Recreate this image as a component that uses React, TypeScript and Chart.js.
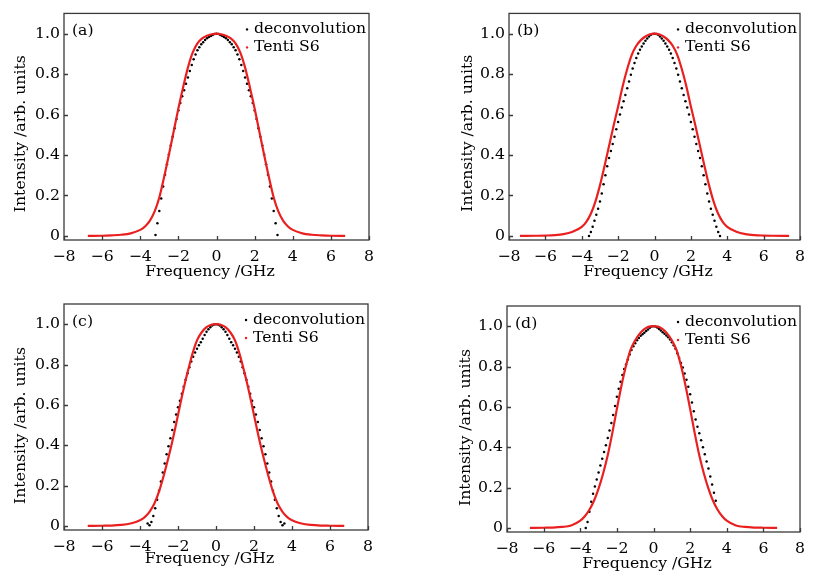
import React, { useEffect, useRef } from "react";
import { Chart, registerables } from "chart.js";

Chart.register(...registerables);

const FONT = '"DejaVu Serif", "Liberation Serif", serif';
const FONT_SIZE = 15.7;
const INK = "#000";
const FRAME = "#3a3a3a";
const RED = "#ea2020";

// Axis ticks and titles
const X_TICKS = [-8, -6, -4, -2, 0, 2, 4, 6, 8];
const Y_TICKS = [0, 0.2, 0.4, 0.6, 0.8, 1.0];
const X_TITLE = "Frequency /GHz";
const Y_TITLE = "Intensity /arb. units";

// Frequency grid of the deconvolved spectra (GHz)
const DECONV_X = [
  -3.7, -3.6, -3.5, -3.4, -3.3, -3.2, -3.1, -3.0, -2.9, -2.8, -2.7, -2.6, -2.5,
  -2.4, -2.3, -2.2, -2.1, -2.0, -1.9, -1.8, -1.7, -1.6, -1.5, -1.4, -1.3, -1.2,
  -1.1, -1.0, -0.9, -0.8, -0.7, -0.6, -0.5, -0.4, -0.3, -0.2, -0.1, 0, 0.1, 0.2,
  0.3, 0.4, 0.5, 0.6, 0.7, 0.8, 0.9, 1.0, 1.1, 1.2, 1.3, 1.4, 1.5, 1.6, 1.7, 1.8,
  1.9, 2.0, 2.1, 2.2, 2.3, 2.4, 2.5, 2.6, 2.7, 2.8, 2.9, 3.0, 3.1, 3.2, 3.3, 3.4,
  3.5, 3.6, 3.7,
];

// Deconvolved spectra (null = no sample)
const DECONV_A = [
  null, null, null, null, null, 0.005, 0.063, 0.123, 0.185, 0.245, 0.302, 0.355, 0.403,
  0.447, 0.49, 0.533, 0.578, 0.62, 0.657, 0.69, 0.72, 0.752, 0.783, 0.815, 0.845, 0.873,
  0.897, 0.918, 0.933, 0.947, 0.958, 0.968, 0.977, 0.984, 0.989, 0.993, 0.998, 1.0, 0.998, 0.993,
  0.989, 0.984, 0.977, 0.968, 0.958, 0.947, 0.933, 0.918, 0.897, 0.873, 0.845, 0.815, 0.783, 0.752, 0.72, 0.69,
  0.657, 0.62, 0.578, 0.533, 0.49, 0.447, 0.403, 0.355, 0.302, 0.245, 0.185, 0.123, 0.063, 0.005, null, null,
  null, null, null,
];
const DECONV_B = [
  null, 0.0, 0.02, 0.045, 0.075, 0.105, 0.135, 0.17, 0.21, 0.255, 0.3, 0.345, 0.385,
  0.42, 0.455, 0.49, 0.527, 0.563, 0.6, 0.635, 0.666, 0.697, 0.73, 0.763, 0.797, 0.828,
  0.855, 0.88, 0.902, 0.921, 0.936, 0.951, 0.965, 0.976, 0.986, 0.994, 0.998, 1.0, 0.998, 0.994,
  0.986, 0.976, 0.965, 0.951, 0.936, 0.921, 0.902, 0.88, 0.855, 0.828, 0.797, 0.763, 0.73, 0.697, 0.666, 0.635,
  0.6, 0.563, 0.527, 0.49, 0.455, 0.42, 0.385, 0.345, 0.3, 0.255, 0.21, 0.17, 0.135, 0.105, 0.075, 0.045,
  0.02, 0.0, null,
];
const DECONV_C = [
  null, 0.012, 0.004, 0.02, 0.05, 0.088, 0.13, 0.175, 0.22, 0.265, 0.31, 0.355, 0.395,
  0.435, 0.475, 0.515, 0.553, 0.588, 0.62, 0.655, 0.69, 0.725, 0.757, 0.787, 0.815, 0.838,
  0.86, 0.878, 0.895, 0.91, 0.928, 0.946, 0.962, 0.975, 0.985, 0.993, 0.998, 1.0, 0.998, 0.993,
  0.985, 0.975, 0.962, 0.946, 0.928, 0.91, 0.895, 0.878, 0.86, 0.838, 0.815, 0.787, 0.757, 0.725, 0.69, 0.655,
  0.62, 0.588, 0.553, 0.515, 0.475, 0.435, 0.395, 0.355, 0.31, 0.265, 0.22, 0.175, 0.13, 0.088, 0.05, 0.02,
  0.004, 0.012, null,
];
const DECONV_D = [
  0.0, 0.03, 0.08, 0.13, 0.17, 0.205, 0.24, 0.275, 0.31, 0.343, 0.376, 0.41, 0.446,
  0.483, 0.52, 0.56, 0.605, 0.65, 0.69, 0.725, 0.758, 0.788, 0.81, 0.835, 0.86, 0.882,
  0.9, 0.915, 0.93, 0.942, 0.952, 0.96, 0.968, 0.976, 0.984, 0.992, 0.998, 1.0, 0.998, 0.993,
  0.986, 0.978, 0.97, 0.962, 0.954, 0.945, 0.934, 0.92, 0.905, 0.888, 0.866, 0.842, 0.818, 0.795, 0.766, 0.734,
  0.7, 0.663, 0.622, 0.578, 0.538, 0.502, 0.47, 0.435, 0.4, 0.365, 0.33, 0.295, 0.255, 0.215, 0.175, 0.135,
  null, null, null,
];

// Tenti S6 model profiles
const TENTI_X_A = [
  -6.75, -6, -5.5, -5, -4.5, -4, -3.75, -3.5, -3.25, -3, -2.75, -2.5, -2.25, -2, -1.75, -1.5,
  -1.25, -1, -0.75, -0.5, -0.25, 0, 0.25, 0.5, 0.75, 1, 1.25, 1.5, 1.75, 2, 2.25, 2.5, 2.75, 3,
  3.25, 3.5, 3.75, 4, 4.5, 5, 5.5, 6, 6.75,
];
const TENTI_A = [
  0, 0.001, 0.003, 0.006, 0.013, 0.03, 0.047, 0.075, 0.12, 0.19, 0.29, 0.4, 0.515, 0.63, 0.735, 0.832,
  0.906, 0.952, 0.977, 0.99, 0.997, 1, 0.997, 0.99, 0.977, 0.952, 0.906, 0.832, 0.735, 0.63, 0.515, 0.4, 0.29, 0.19,
  0.12, 0.075, 0.047, 0.03, 0.013, 0.006, 0.003, 0.001, 0,
];
const TENTI_X_B = [
  -7.4, -6.5, -6, -5.5, -5, -4.5, -4, -3.75, -3.5, -3.25, -3, -2.75, -2.5, -2.25, -2, -1.75, -1.5,
  -1.25, -1, -0.75, -0.5, -0.25, 0, 0.25, 0.5, 0.75, 1, 1.25, 1.5, 1.75, 2, 2.25, 2.5, 2.75, 3,
  3.25, 3.5, 3.75, 4, 4.5, 5, 5.5, 6, 6.5, 7.4,
];
const TENTI_B = [
  0, 0.001, 0.002, 0.004, 0.009, 0.021, 0.045, 0.07, 0.11, 0.17, 0.25, 0.345, 0.445, 0.545, 0.64, 0.74, 0.825,
  0.895, 0.94, 0.968, 0.986, 0.997, 1, 0.997, 0.986, 0.968, 0.94, 0.895, 0.825, 0.74, 0.64, 0.545, 0.445, 0.345, 0.25,
  0.17, 0.11, 0.07, 0.045, 0.021, 0.009, 0.004, 0.002, 0.001, 0,
];
const TENTI_X_C = TENTI_X_A;
const TENTI_C = [
  0, 0.001, 0.002, 0.005, 0.012, 0.028, 0.044, 0.07, 0.11, 0.17, 0.25, 0.34, 0.44, 0.55, 0.66, 0.76,
  0.85, 0.92, 0.96, 0.985, 0.997, 1, 0.997, 0.985, 0.96, 0.92, 0.85, 0.76, 0.66, 0.55, 0.44, 0.34, 0.25, 0.17,
  0.11, 0.07, 0.044, 0.028, 0.012, 0.005, 0.002, 0.001, 0,
];
const TENTI_X_D = TENTI_X_A;
const TENTI_D = [
  0, 0.001, 0.002, 0.005, 0.012, 0.036, 0.058, 0.09, 0.135, 0.195, 0.27, 0.36, 0.47, 0.59, 0.705, 0.805,
  0.884, 0.93, 0.963, 0.985, 0.998, 1, 0.998, 0.985, 0.963, 0.93, 0.884, 0.805, 0.705, 0.59, 0.47, 0.36, 0.27, 0.195,
  0.135, 0.09, 0.058, 0.036, 0.012, 0.005, 0.002, 0.001, 0,
];

type PanelSpec = {
  tag: string;
  dots: (number | null)[];
  modelX: number[];
  model: number[];
  left: number;
  top: number;
  w: number;
  h: number;
  padTop: number;
  padRight: number;
  xAxisH: number;
  xTitleDy: number;
  yTitleDx: number;
  yTitleDy: number;
};

const PANELS: PanelSpec[] = [
  { tag: "(a)", dots: DECONV_A, modelX: TENTI_X_A, model: TENTI_A, left: 0, top: 0, w: 400, h: 290, padTop: 8, padRight: 31, xAxisH: 50, xTitleDy: 31.5, yTitleDx: 43, yTitleDy: 7 },
  { tag: "(b)", dots: DECONV_B, modelX: TENTI_X_B, model: TENTI_B, left: 445, top: 0, w: 368, h: 290, padTop: 9, padRight: 6, xAxisH: 50, xTitleDy: 31.5, yTitleDx: 41, yTitleDy: 6.5 },
  { tag: "(c)", dots: DECONV_C, modelX: TENTI_X_C, model: TENTI_C, left: 0, top: 290, w: 400, h: 288, padTop: 14, padRight: 32, xAxisH: 48, xTitleDy: 29, yTitleDx: 43, yTitleDy: 8.5 },
  { tag: "(d)", dots: DECONV_D, modelX: TENTI_X_D, model: TENTI_D, left: 443, top: 290, w: 370, h: 288, padTop: 16, padRight: 6, xAxisH: 46, xTitleDy: 32, yTitleDx: 41, yTitleDy: 8.5 },
];

const fmtX = (v: number) => (v < 0 ? "\u2212" + Math.abs(v) : String(v));
const fmtY = (v: number) => (v === 0 ? "0" : v.toFixed(1));

// Box frame, inward tick marks, axis titles, panel tag and the in-plot legend
const decorPlugin = {
  id: "panelDecor",
  afterDraw(chart: any, _args: any, opts: any) {
    const { ctx, chartArea: a, scales } = chart;
    ctx.save();
    ctx.strokeStyle = FRAME;
    ctx.lineWidth = 1.3;
    ctx.strokeRect(a.left, a.top, a.right - a.left, a.bottom - a.top);
    ctx.beginPath();
    for (const t of scales.x.ticks) {
      const px = Math.round(scales.x.getPixelForValue(t.value)) + 0.5;
      ctx.moveTo(px, a.bottom);
      ctx.lineTo(px, a.bottom - 4);
    }
    for (const t of scales.y.ticks) {
      const py = Math.round(scales.y.getPixelForValue(t.value)) + 0.5;
      ctx.moveTo(a.left, py);
      ctx.lineTo(a.left + 4, py);
    }
    ctx.stroke();

    ctx.font = `${FONT_SIZE}px ${FONT}`;
    ctx.fillStyle = INK;

    // axis titles
    ctx.textAlign = "center";
    ctx.textBaseline = "middle";
    ctx.fillText(X_TITLE, (a.left + a.right) / 2 - 6.5, a.bottom + opts.xTitleDy);
    ctx.save();
    ctx.translate(a.left - opts.yTitleDx, (a.top + a.bottom) / 2 + opts.yTitleDy);
    ctx.rotate(-Math.PI / 2);
    ctx.fillText(Y_TITLE, 0, 0);
    ctx.restore();

    // panel tag
    ctx.textAlign = "left";
    ctx.textBaseline = "alphabetic";
    ctx.fillText(opts.tag, a.left + 8, a.top + 22);

    // legend
    const sets = chart.data.datasets;
    const widest = Math.max(...sets.map((d: any) => ctx.measureText(d.label).width));
    const tx = a.right - 3 - widest;
    sets.forEach((d: any, i: number) => {
      const base = a.top + 20 + i * 18;
      ctx.fillStyle = INK;
      ctx.fillText(d.label, tx, base);
      ctx.fillStyle = d.legendColor;
      ctx.beginPath();
      ctx.arc(tx - 7, base - 4, 1.2, 0, Math.PI * 2);
      ctx.fill();
    });
    ctx.restore();
  },
};

function Panel({ spec }: { spec: PanelSpec }) {
  const ref = useRef<HTMLCanvasElement>(null);
  useEffect(() => {
    const canvas = ref.current;
    if (!canvas) return;
    const dots = DECONV_X.map((x, i) => ({ x, y: spec.dots[i] })).filter((p) => p.y !== null);
    const curve = spec.modelX.map((x, i) => ({ x, y: spec.model[i] }));
    const textFont = { family: FONT, size: FONT_SIZE };
    const chart = new Chart(canvas, {
      type: "scatter",
      data: {
        datasets: [
          {
            label: "deconvolution",
            data: dots as any,
            pointRadius: 1.25,
            pointBackgroundColor: INK,
            pointBorderWidth: 0,
            order: 1,
            legendColor: INK,
          } as any,
          {
            label: "Tenti S6",
            data: curve,
            showLine: true,
            borderColor: RED,
            borderWidth: 2.2,
            pointRadius: 0,
            cubicInterpolationMode: "monotone",
            order: 0,
            legendColor: RED,
          } as any,
        ],
      },
      options: {
        responsive: false,
        animation: false,
        events: [],
        layout: { padding: { left: 0, right: spec.padRight, top: spec.padTop, bottom: 0 } },
        plugins: {
          legend: { display: false },
          tooltip: { enabled: false },
          panelDecor: {
            tag: spec.tag,
            xTitleDy: spec.xTitleDy,
            yTitleDx: spec.yTitleDx,
            yTitleDy: spec.yTitleDy,
          },
        } as any,
        scales: {
          x: {
            type: "linear",
            min: -8,
            max: 8,
            grid: { display: false, drawTicks: false },
            border: { display: false },
            afterBuildTicks: (s: any) => {
              s.ticks = X_TICKS.map((value) => ({ value }));
            },
            afterFit: (s: any) => {
              s.height = spec.xAxisH;
            },
            ticks: {
              font: textFont,
              color: INK,
              padding: 8,
              maxRotation: 0,
              autoSkip: false,
              callback: (v: any) => fmtX(Number(v)),
            },
          },
          y: {
            type: "linear",
            min: -0.02,
            max: 1.1,
            grid: { display: false, drawTicks: false },
            border: { display: false },
            afterBuildTicks: (s: any) => {
              s.ticks = Y_TICKS.map((value) => ({ value }));
            },
            afterFit: (s: any) => {
              s.width = 64;
            },
            ticks: {
              font: textFont,
              color: INK,
              padding: 4,
              autoSkip: false,
              callback: (v: any) => fmtY(Number(v)),
            },
          },
        },
      },
      plugins: [decorPlugin],
    });
    return () => chart.destroy();
  }, [spec]);
  return (
    <canvas
      ref={ref}
      width={spec.w}
      height={spec.h}
      style={{ position: "absolute", left: spec.left, top: spec.top, width: spec.w, height: spec.h }}
    />
  );
}

export default function App() {
  return (
    <div style={{ position: "absolute", left: 0, top: 0, width: 813, height: 578, background: "#fff" }}>
      {PANELS.map((p) => (
        <Panel key={p.tag} spec={p} />
      ))}
    </div>
  );
}
